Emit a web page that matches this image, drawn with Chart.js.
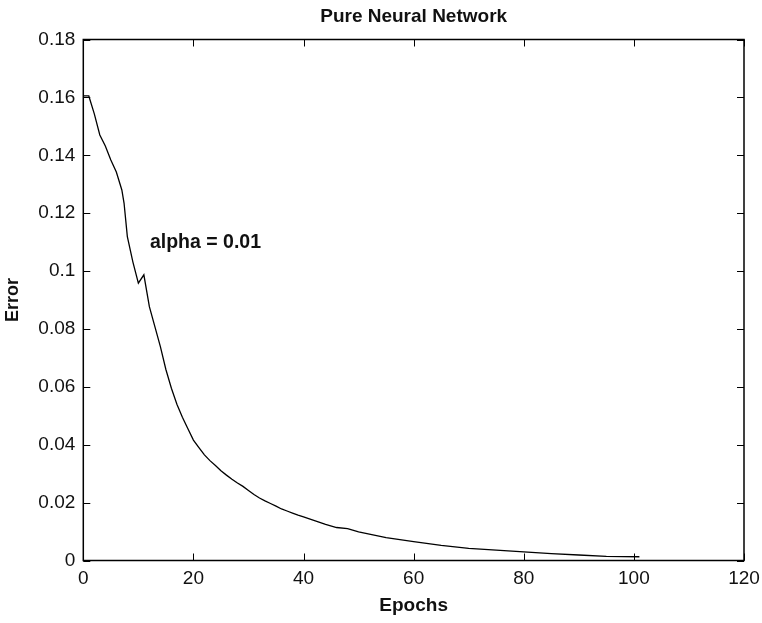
<!DOCTYPE html>
<html>
<head>
<meta charset="utf-8">
<script src="https://cdn.jsdelivr.net/npm/chart.js@4"></script>
<style>
  html, body { margin: 0; padding: 0; background: #fff; }
  #wrap { width: 762px; height: 623px; }
</style>
</head>
<body>
<div id="wrap"><canvas id="err-chart" width="762" height="623"></canvas></div>
<script>
// values
const epochs = [0, 1, 2, 3, 4, 5, 6, 7, 7.4, 8, 9, 10, 11, 12, 13, 14, 15, 16, 17, 18, 19, 20,
    21, 22, 23, 24, 25, 26, 27, 28, 29, 30, 31, 32, 33, 34, 35, 36, 37, 38, 39, 40,
    42, 44, 46, 48, 50, 55, 60, 65, 70, 75, 80, 85, 90, 95, 101];
const errors = [0.1605, 0.1605, 0.1543, 0.147, 0.1432, 0.1384, 0.1342, 0.128, 0.1235, 0.1119, 0.1032, 0.0958, 0.0987, 0.0877, 0.0808, 0.0739, 0.066, 0.0595, 0.054, 0.0495, 0.0455, 0.0416,
    0.039, 0.0365, 0.0345, 0.0328, 0.031, 0.0295, 0.0281, 0.0268, 0.0256, 0.0242, 0.0228, 0.0216, 0.0206, 0.0197, 0.0188, 0.0178, 0.0171, 0.0164, 0.0157, 0.0151,
    0.0138, 0.0125, 0.0114, 0.011, 0.0099, 0.0079, 0.0065, 0.0052, 0.0042, 0.0036, 0.003, 0.0024, 0.0019, 0.0014, 0.0013];
const xTicks = [0, 20, 40, 60, 80, 100, 120];
const yTicks = [0, 0.02, 0.04, 0.06, 0.08, 0.1, 0.12, 0.14, 0.16, 0.18];
const chartTitle = 'Pure Neural Network';
const note = { text: 'alpha = 0.01', x: 12.1, y: 0.108 };

const FONT = "'Liberation Sans', Arial, Helvetica, sans-serif";

// matlab style box with inward ticks on all four sides, plus title and note
const boxPlugin = {
    id: 'box',
    afterDatasetsDraw(chart) {
        const { ctx, chartArea: a, scales } = chart;
        const len = 7;
        ctx.save();
        ctx.strokeStyle = '#000';
        ctx.lineWidth = 1;
        ctx.beginPath();
        for (const v of xTicks) {
            const px = Math.round(scales.x.getPixelForValue(v)) + 0.5;
            ctx.moveTo(px, a.bottom); ctx.lineTo(px, a.bottom - len);
            ctx.moveTo(px, a.top); ctx.lineTo(px, a.top + len);
        }
        for (const v of yTicks) {
            const py = Math.round(scales.y.getPixelForValue(v)) + 0.5;
            ctx.moveTo(a.left, py); ctx.lineTo(a.left + len, py);
            ctx.moveTo(a.right, py); ctx.lineTo(a.right - len, py);
        }
        ctx.stroke();
        ctx.lineWidth = 1.5;
        ctx.strokeRect(a.left, a.top, a.right - a.left, a.bottom - a.top);

        ctx.fillStyle = '#111';
        ctx.textBaseline = 'alphabetic';
        ctx.font = 'bold 19px ' + FONT;
        ctx.textAlign = 'center';
        ctx.fillText(chartTitle, (a.left + a.right) / 2, 22);

        ctx.font = 'bold 19.5px ' + FONT;
        ctx.textAlign = 'left';
        ctx.fillText(note.text, scales.x.getPixelForValue(note.x), scales.y.getPixelForValue(note.y));
        ctx.restore();
    }
};

const data = {
    datasets: [{
        label: 'Error',
        data: epochs.map((e, i) => ({ x: e, y: errors[i] })),
        borderColor: '#000',
        borderWidth: 1.3,
        pointRadius: 0,
        showLine: true,
        fill: false,
        tension: 0
    }]
};

const config = {
    type: 'scatter',
    data: data,
    options: {
        responsive: false,
        animation: false,
        layout: { padding: { left: 2, right: 18, top: 39.5, bottom: 6 } },
        plugins: {
            legend: { display: false },
            tooltip: { enabled: false },
            title: { display: false }
        },
        scales: {
            x: {
                type: 'linear',
                min: 0, max: 120,
                afterBuildTicks: s => { s.ticks = xTicks.map(v => ({ value: v })); },
                afterFit: s => { s.height = 56.5; s.paddingLeft = 0; s.paddingRight = 0; },
                grid: { display: false, drawTicks: false },
                border: { display: false },
                ticks: { color: '#111', padding: 7, maxRotation: 0, font: { family: FONT, size: 19 },
                    callback: v => String(v) },
                title: { display: true, text: 'Epochs', color: '#111',
                    font: { family: FONT, size: 19, weight: 'bold' }, padding: 0 }
            },
            y: {
                type: 'linear',
                min: 0, max: 0.18,
                afterBuildTicks: s => { s.ticks = yTicks.map(v => ({ value: v })); },
                afterFit: s => { s.width = 81.3; },
                grid: { display: false, drawTicks: false },
                border: { display: false },
                ticks: { color: '#111', padding: 8, font: { family: FONT, size: 19 },
                    callback: v => String(+v.toFixed(2)) },
                title: { display: true, text: 'Error', color: '#111',
                    font: { family: FONT, size: 18, weight: 'bold' }, padding: 0 }
            }
        }
    },
    plugins: [boxPlugin]
};

const errChart = new Chart(document.getElementById('err-chart'), config);
</script>
</body>
</html>
